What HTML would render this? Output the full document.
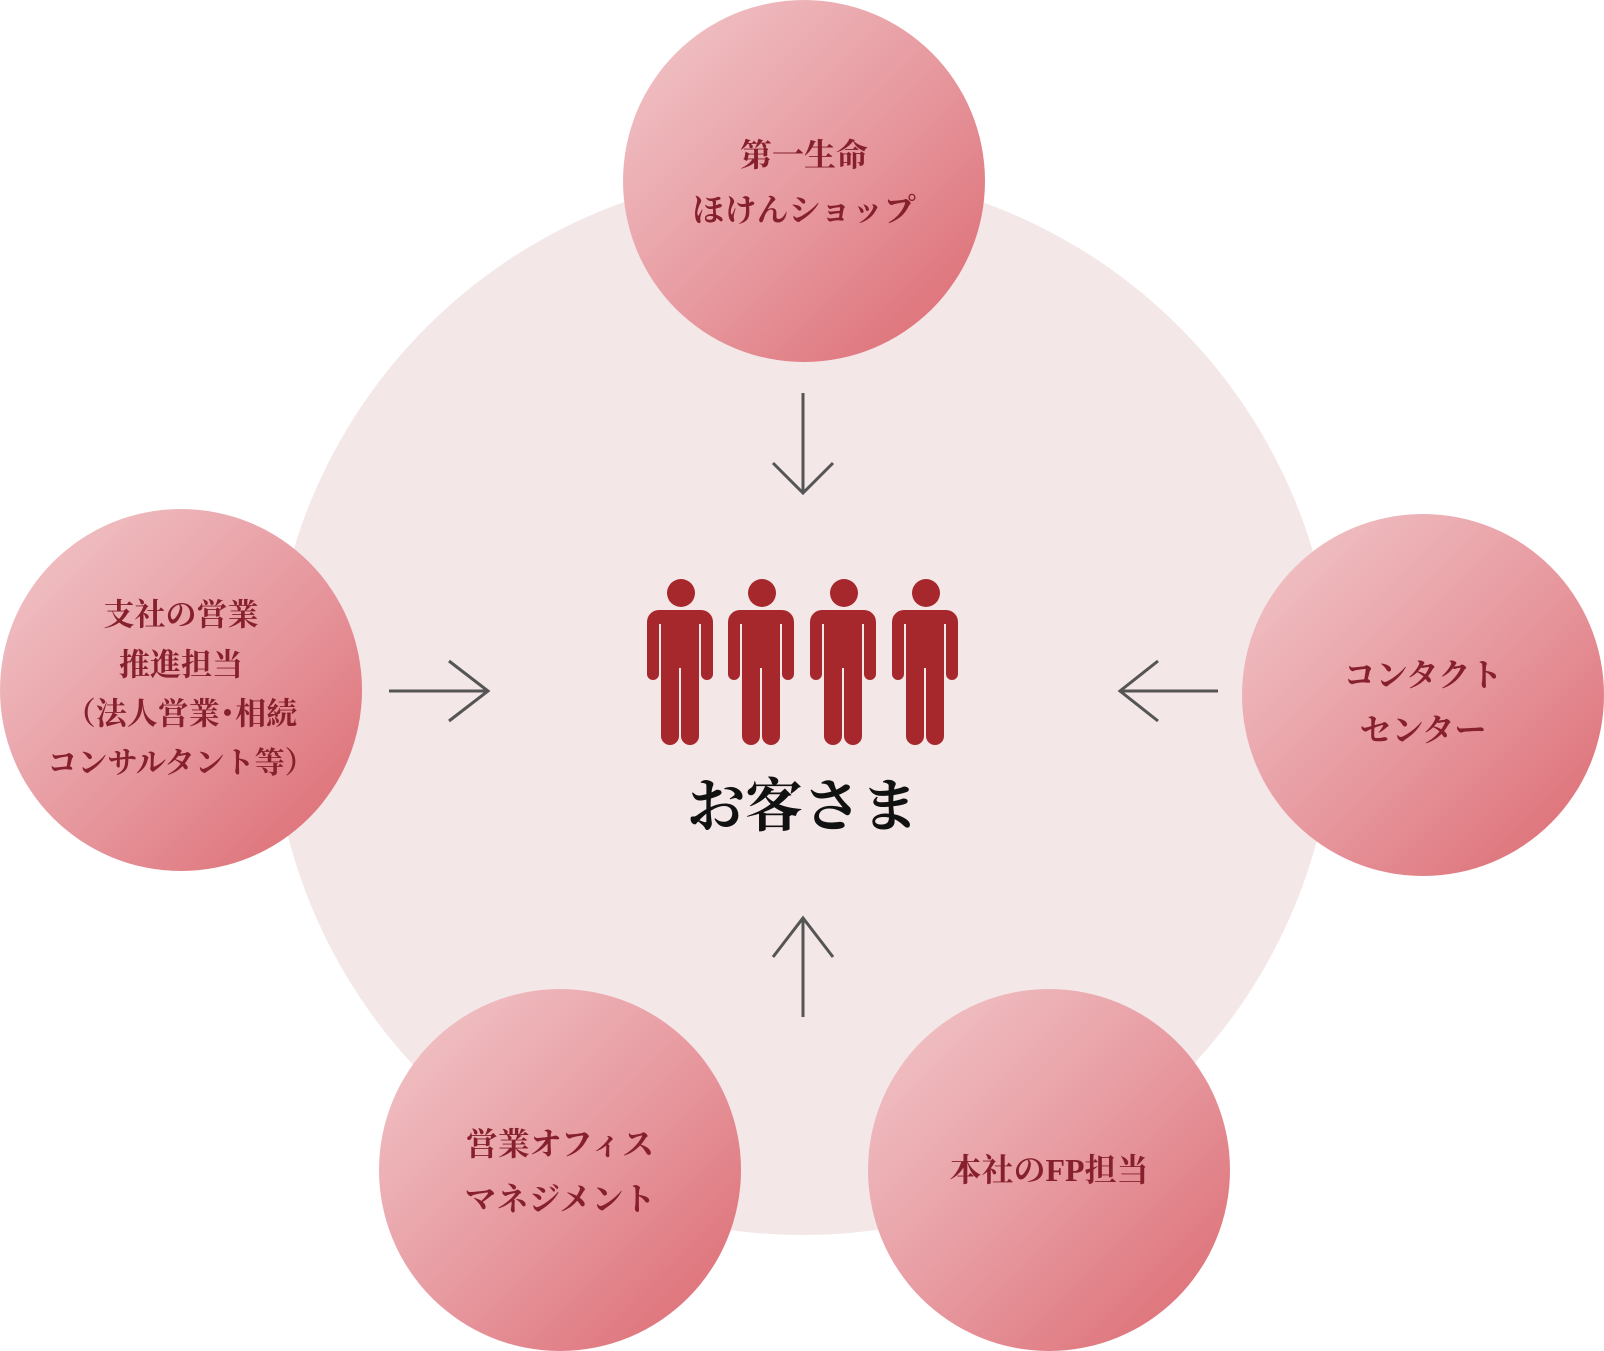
<!DOCTYPE html>
<html><head><meta charset="utf-8"><style>
html,body{margin:0;padding:0;background:#fff;}
body{width:1604px;height:1351px;position:relative;overflow:hidden;font-family:"Liberation Serif","Noto Serif CJK SC",serif;}
.c{position:absolute;width:362px;height:362px;border-radius:50%;background:linear-gradient(135deg,#f2c9cc 0%,#e79ba1 50%,#dc6870 100%);}
.t{position:absolute;left:-20px;width:402px;text-align:center;color:#86202c;font-weight:bold;font-size:32px;white-space:nowrap;transform:translateY(-50%);}
</style></head><body>
<div style="position:absolute;left:271px;top:171px;width:1064px;height:1064px;border-radius:50%;background:#f4e7e8;"></div>
<svg width="1604" height="1351" style="position:absolute;left:0;top:0" fill="none" stroke="#555" stroke-width="3">
<path d="M803 393V493M773 463L803 493L833 463"/>
<path d="M803 1017V918M773 957L803 918L833 957"/>
<path d="M389 691H488M449 661L488 691L449 721"/>
<path d="M1218 691H1120M1158 661L1120 691L1158 721"/>
<g fill="#a7282c" stroke="none">
<g id="p"><circle cx="681" cy="593" r="14"/><path d="M661 610h40a12 12 0 0 1 12 12v52a6 6 0 0 1 -12 0v-50h-2v112a9 9 0 0 1 -18 0v-68h-2v68a9 9 0 0 1 -18 0v-112h-2v50a6 6 0 0 1 -12 0v-52a12 12 0 0 1 12 -12z"/></g>
<use href="#p" x="81"/><use href="#p" x="163"/><use href="#p" x="245"/>
</g>
</svg>
<div style="position:absolute;left:603px;top:776px;width:400px;text-align:center;font-size:58px;font-weight:bold;color:#111;line-height:62px;">お客さま</div>
<div class="c" style="left:623px;top:0px"><div class="t" style="top:153px">第一生命</div><div class="t" style="top:208px">ほけんショップ</div></div>
<div class="c" style="left:0px;top:509px"><div class="t" style="top:103px;font-size:31px">支社の営業</div><div class="t" style="top:153px;font-size:31px">推進担当</div><div class="t" style="top:202px;font-size:31px">（法人営業･相続</div><div class="t" style="top:251px;font-size:30px">コンサルタント等）</div></div>
<div class="c" style="left:1242px;top:514px"><div class="t" style="top:159px">コンタクト</div><div class="t" style="top:214px">センター</div></div>
<div class="c" style="left:379px;top:989px"><div class="t" style="top:153px">営業オフィス</div><div class="t" style="top:208px">マネジメント</div></div>
<div class="c" style="left:868px;top:989px"><div class="t" style="top:179px">本社のFP担当</div></div>
</body></html>
